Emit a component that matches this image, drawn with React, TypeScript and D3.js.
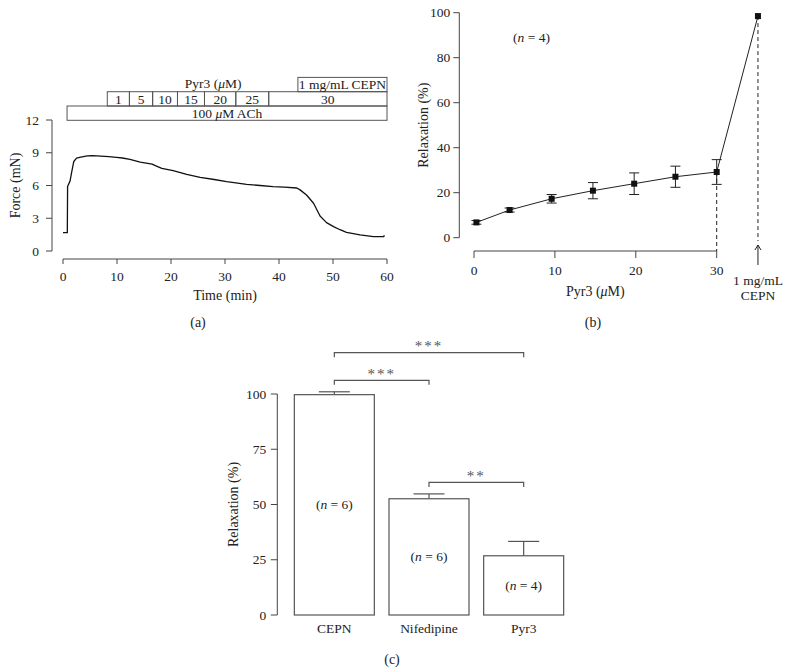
import React from "react";
import * as d3 from "d3";

// ---------- Panel (a) data ----------
const timeMin = [0, 0.8, 0.85, 1.3, 1.6, 2.0, 2.5, 3.3, 4.5, 5.5, 7, 8.5, 9.9, 11, 12.4, 14.3, 16.5, 17.3, 18.3, 20.4, 22.9, 25.4, 28, 30.3, 32, 34, 36.5, 38.9, 41, 43.3, 43.9, 45.1, 46.4, 47.6, 48.8, 50.1, 51.3, 52.5, 55, 57.5, 59.4, 59.5];
const forceMN = [1.68, 1.68, 5.9, 6.4, 7.2, 8.2, 8.5, 8.6, 8.72, 8.74, 8.7, 8.65, 8.58, 8.52, 8.4, 8.15, 7.95, 7.78, 7.57, 7.36, 7.02, 6.75, 6.55, 6.35, 6.25, 6.1, 6.0, 5.9, 5.85, 5.77, 5.6, 5.13, 4.37, 3.2, 2.6, 2.23, 1.95, 1.71, 1.47, 1.31, 1.31, 1.45];
const forceTicks = [0, 3, 6, 9, 12];
const timeTicks = [0, 10, 20, 30, 40, 50, 60];
const pyr3Labels = ["1", "5", "10", "15", "20", "25", "30"];
const pyr3Bounds = [8.2, 12.3, 16.6, 21.2, 26.2, 32.0, 38.1, 60];
const achStart = 0.75;
const cepnStart = 43.5;

// ---------- Panel (b) data ----------
const doseUM = [0.3, 4.4, 9.6, 14.7, 19.8, 24.9, 30];
const relaxPct = [6.8, 12.3, 17.3, 20.9, 24.0, 27.1, 29.2];
const relaxErr = [0.8, 0.9, 1.9, 3.6, 4.8, 4.7, 5.5];
const cepnDose = 35.1;
const cepnRelax = 98.5;
const relaxTicksB = [0, 20, 40, 60, 80, 100];
const doseTicks = [0, 10, 20, 30];

// ---------- Panel (c) data ----------
const drugs = ["CEPN", "Nifedipine", "Pyr3"];
const barMean = [99.7, 52.6, 26.8];
const barErr = [1.3, 2.2, 6.5];
const nCount = [6, 6, 4];
const nLabelAt = [50, 26.4, 13.6];
const relaxTicksC = [0, 25, 50, 75, 100];
const sigFrom = ["CEPN", "CEPN", "Nifedipine"];
const sigTo = ["Pyr3", "Nifedipine", "Pyr3"];
const sigLevel = [118.7, 106.2, 60];
const sigStars = ["***", "***", "**"];

const FONT = "'Liberation Serif', 'DejaVu Serif', serif";
const TXT = "#222";
const AX = "#444";
const TICK_FS = 13.5;
const TITLE_FS = 14;

export default function App() {
  // scales (a)
  const xA = d3.scaleLinear().domain([0, 60]).range([63, 387]);
  const yA = d3.scaleLinear().domain([0, 12]).range([251, 120]);
  const lineA = d3.line<number>().x((_, i) => xA(timeMin[i])).y((d) => yA(d));
  const yAxisAx = 52;
  const xAxisAy = 259;

  // scales (b)
  const xB = d3.scaleLinear().domain([0, 30]).range([474, 716.7]);
  const yB = d3.scaleLinear().domain([0, 100]).range([237.7, 12.7]);
  const yAxisBx = 459.3;
  const xAxisBy = 251;
  const lineB = d3.line<number>().x((_, i) => xB(doseUM[i])).y((d) => yB(d));

  // scales (c)
  const xC = d3.scalePoint<string>().domain(drugs).range([287, 571]).padding(0.5);
  const yC = d3.scaleLinear().domain([0, 100]).range([615, 394]);
  const yAxisCx = 277.3;
  const barW = 80;

  const rowH = 14.3;
  const rowAch = 106;
  const rowPyr = rowAch - rowH;
  const rowCepn = rowPyr - rowH;

  return (
    <svg width={790} height={668} style={{ position: "absolute", left: 0, top: 0, background: "#fff" }} fontFamily={FONT}>
      <rect x={0} y={0} width={790} height={668} fill="#fff" />
      {/* ================= Panel (a) ================= */}
      <g>
        <rect x={xA(achStart)} y={rowAch} width={xA(60) - xA(achStart)} height={rowH} fill="none" stroke="#555" strokeWidth={1} />
        <text x={(xA(achStart) + xA(60)) / 2} y={rowAch + rowH / 2} dy="0.36em" textAnchor="middle" fontSize={TICK_FS} fill={TXT}>
          100 <tspan fontStyle="italic">μ</tspan>M ACh
        </text>
        {pyr3Labels.map((lab, i) => (
          <g key={lab}>
            <rect x={xA(pyr3Bounds[i])} y={rowPyr} width={xA(pyr3Bounds[i + 1]) - xA(pyr3Bounds[i])} height={rowH} fill="none" stroke="#555" strokeWidth={1} />
            <text x={(xA(pyr3Bounds[i]) + xA(pyr3Bounds[i + 1])) / 2} y={rowPyr + rowH / 2} dy="0.36em" textAnchor="middle" fontSize={TICK_FS} fill={TXT}>
              {lab}
            </text>
          </g>
        ))}
        <rect x={xA(cepnStart)} y={rowCepn} width={xA(60) - xA(cepnStart)} height={rowH} fill="none" stroke="#555" strokeWidth={1} />
        <text x={(xA(cepnStart) + xA(60)) / 2} y={rowCepn + rowH / 2} dy="0.36em" textAnchor="middle" fontSize={TICK_FS} fill={TXT}>
          1 mg/mL CEPN
        </text>
        <text x={xA(27.8)} y={rowCepn + rowH / 2 - 1} dy="0.36em" textAnchor="middle" fontSize={TICK_FS} fill={TXT}>
          Pyr3 (<tspan fontStyle="italic">μ</tspan>M)
        </text>

        {/* y axis */}
        <line x1={yAxisAx} x2={yAxisAx} y1={yA(0)} y2={yA(12)} stroke={AX} />
        {forceTicks.map((t) => (
          <g key={t}>
            <line x1={yAxisAx - 6} x2={yAxisAx} y1={yA(t)} y2={yA(t)} stroke={AX} />
            <text x={yAxisAx - 13} y={yA(t)} dy="0.35em" textAnchor="end" fontSize={TICK_FS} fill={TXT}>{t}</text>
          </g>
        ))}
        <text transform={`translate(15,${(yA(0) + yA(12)) / 2}) rotate(-90)`} dy="0.35em" textAnchor="middle" fontSize={TITLE_FS} fill={TXT}>
          Force (mN)
        </text>
        {/* x axis */}
        <line x1={xA(0)} x2={xA(60)} y1={xAxisAy} y2={xAxisAy} stroke={AX} />
        {timeTicks.map((t) => (
          <g key={t}>
            <line x1={xA(t)} x2={xA(t)} y1={xAxisAy} y2={xAxisAy + 5} stroke={AX} />
            <text x={xA(t)} y={xAxisAy + 17} dy="0.35em" textAnchor="middle" fontSize={TICK_FS} fill={TXT}>{t}</text>
          </g>
        ))}
        <text x={xA(30)} y={295} dy="0.35em" textAnchor="middle" fontSize={TITLE_FS} fill={TXT}>Time (min)</text>
        <text x={198} y={322} dy="0.35em" textAnchor="middle" fontSize={TITLE_FS} fill={TXT}>(a)</text>

        <path d={lineA(forceMN) || ""} fill="none" stroke="#111" strokeWidth={1.3} strokeLinejoin="round" />
      </g>

      {/* ================= Panel (b) ================= */}
      <g>
        <line x1={yAxisBx} x2={yAxisBx} y1={yB(0)} y2={yB(100)} stroke={AX} />
        {relaxTicksB.map((t) => (
          <g key={t}>
            <line x1={yAxisBx - 6} x2={yAxisBx} y1={yB(t)} y2={yB(t)} stroke={AX} />
            <text x={yAxisBx - 9} y={yB(t)} dy="0.35em" textAnchor="end" fontSize={TICK_FS} fill={TXT}>{t}</text>
          </g>
        ))}
        <text transform={`translate(423,${(yB(0) + yB(100)) / 2}) rotate(-90)`} dy="0.35em" textAnchor="middle" fontSize={TITLE_FS} fill={TXT}>
          Relaxation (%)
        </text>
        <line x1={xB(0)} x2={xB(30)} y1={xAxisBy} y2={xAxisBy} stroke={AX} />
        {doseTicks.map((t) => (
          <g key={t}>
            <line x1={xB(t)} x2={xB(t)} y1={xAxisBy} y2={xAxisBy + 7} stroke={AX} />
            <text x={xB(t)} y={270.5} dy="0.35em" textAnchor="middle" fontSize={TICK_FS} fill={TXT}>{t}</text>
          </g>
        ))}
        <text x={(xB(0) + xB(30)) / 2} y={291.5} dy="0.35em" textAnchor="middle" fontSize={TITLE_FS} fill={TXT}>
          Pyr3 (<tspan fontStyle="italic">μ</tspan>M)
        </text>
        <text x={593} y={322} dy="0.35em" textAnchor="middle" fontSize={TITLE_FS} fill={TXT}>(b)</text>
        <text x={531.5} y={37.5} dy="0.35em" textAnchor="middle" fontSize={TICK_FS} fill={TXT}>
          (<tspan fontStyle="italic">n</tspan> = 4)
        </text>

        {/* dashed guide lines */}
        <line x1={xB(30)} x2={xB(30)} y1={yB(relaxPct[6])} y2={xAxisBy} stroke="#222" strokeDasharray="4,3" />
        <line x1={xB(cepnDose)} x2={xB(cepnDose)} y1={yB(cepnRelax)} y2={241} stroke="#222" strokeDasharray="4,3" />
        {/* arrow */}
        <line x1={xB(cepnDose)} x2={xB(cepnDose)} y1={265} y2={245} stroke="#222" />
        <path d={`M${xB(cepnDose) - 3},${250} L${xB(cepnDose)},${245} L${xB(cepnDose) + 3},${250}`} fill="none" stroke="#222" />
        <text x={xB(cepnDose)} y={280.5} dy="0.35em" textAnchor="middle" fontSize={TICK_FS} fill={TXT}>1 mg/mL</text>
        <text x={xB(cepnDose)} y={295.5} dy="0.35em" textAnchor="middle" fontSize={TICK_FS} fill={TXT}>CEPN</text>

        {/* lines */}
        <path d={lineB(relaxPct) || ""} fill="none" stroke="#222" strokeWidth={1} />
        <line x1={xB(30)} y1={yB(relaxPct[6])} x2={xB(cepnDose)} y2={yB(cepnRelax)} stroke="#222" strokeWidth={1} />
        {/* error bars */}
        {doseUM.map((d, i) => (
          <g key={i} stroke="#222" strokeWidth={1}>
            <line x1={xB(d)} x2={xB(d)} y1={yB(relaxPct[i] - relaxErr[i])} y2={yB(relaxPct[i] + relaxErr[i])} />
            <line x1={xB(d) - 5} x2={xB(d) + 5} y1={yB(relaxPct[i] - relaxErr[i])} y2={yB(relaxPct[i] - relaxErr[i])} />
            <line x1={xB(d) - 5} x2={xB(d) + 5} y1={yB(relaxPct[i] + relaxErr[i])} y2={yB(relaxPct[i] + relaxErr[i])} />
          </g>
        ))}
        {doseUM.map((d, i) => (
          <rect key={i} x={xB(d) - 3} y={yB(relaxPct[i]) - 3} width={6} height={6} fill="#111" />
        ))}
        <rect x={xB(cepnDose) - 3} y={yB(cepnRelax) - 3} width={6} height={6} fill="#111" />
      </g>

      {/* ================= Panel (c) ================= */}
      <g>
        <line x1={yAxisCx} x2={yAxisCx} y1={yC(0)} y2={yC(100)} stroke={AX} />
        {relaxTicksC.map((t) => (
          <g key={t}>
            <line x1={yAxisCx - 6.5} x2={yAxisCx} y1={yC(t)} y2={yC(t)} stroke={AX} />
            <text x={yAxisCx - 11} y={yC(t)} dy="0.35em" textAnchor="end" fontSize={TICK_FS} fill={TXT}>{t}</text>
          </g>
        ))}
        <text transform={`translate(233,${(yC(0) + yC(100)) / 2}) rotate(-90)`} dy="0.35em" textAnchor="middle" fontSize={TITLE_FS} fill={TXT}>
          Relaxation (%)
        </text>
        {drugs.map((c, i) => {
          const cx = xC(c) as number;
          return (
            <g key={c}>
              <line x1={cx} x2={cx} y1={yC(barMean[i])} y2={yC(barMean[i] + barErr[i])} stroke="#555" strokeWidth={1.2} />
              <line x1={cx - 15.5} x2={cx + 15.5} y1={yC(barMean[i] + barErr[i])} y2={yC(barMean[i] + barErr[i])} stroke="#555" strokeWidth={1.2} />
              <rect x={cx - barW / 2} y={yC(barMean[i])} width={barW} height={yC(0) - yC(barMean[i])} fill="#fff" stroke="#555" strokeWidth={1.2} />
              <text x={cx} y={yC(nLabelAt[i])} dy="0.35em" textAnchor="middle" fontSize={TICK_FS} fill={TXT}>
                (<tspan fontStyle="italic">n</tspan> = {nCount[i]})
              </text>
              <text x={cx} y={628.5} dy="0.35em" textAnchor="middle" fontSize={TICK_FS} fill={TXT}>{c}</text>
            </g>
          );
        })}
        {sigStars.map((s, i) => {
          const x1 = xC(sigFrom[i]) as number;
          const x2 = xC(sigTo[i]) as number;
          const y = yC(sigLevel[i]);
          return (
            <g key={i}>
              <path d={`M${x1},${y + 4.5} L${x1},${y} L${x2},${y} L${x2},${y + 4.5}`} fill="none" stroke="#555" strokeWidth={1.2} />
              <text x={(x1 + x2) / 2} y={y - 1.5} textAnchor="middle" fontSize={15} fill="#555" letterSpacing={2}>{s}</text>
            </g>
          );
        })}
        <text x={392} y={659} dy="0.35em" textAnchor="middle" fontSize={TITLE_FS} fill={TXT}>(c)</text>
      </g>
    </svg>
  );
}
